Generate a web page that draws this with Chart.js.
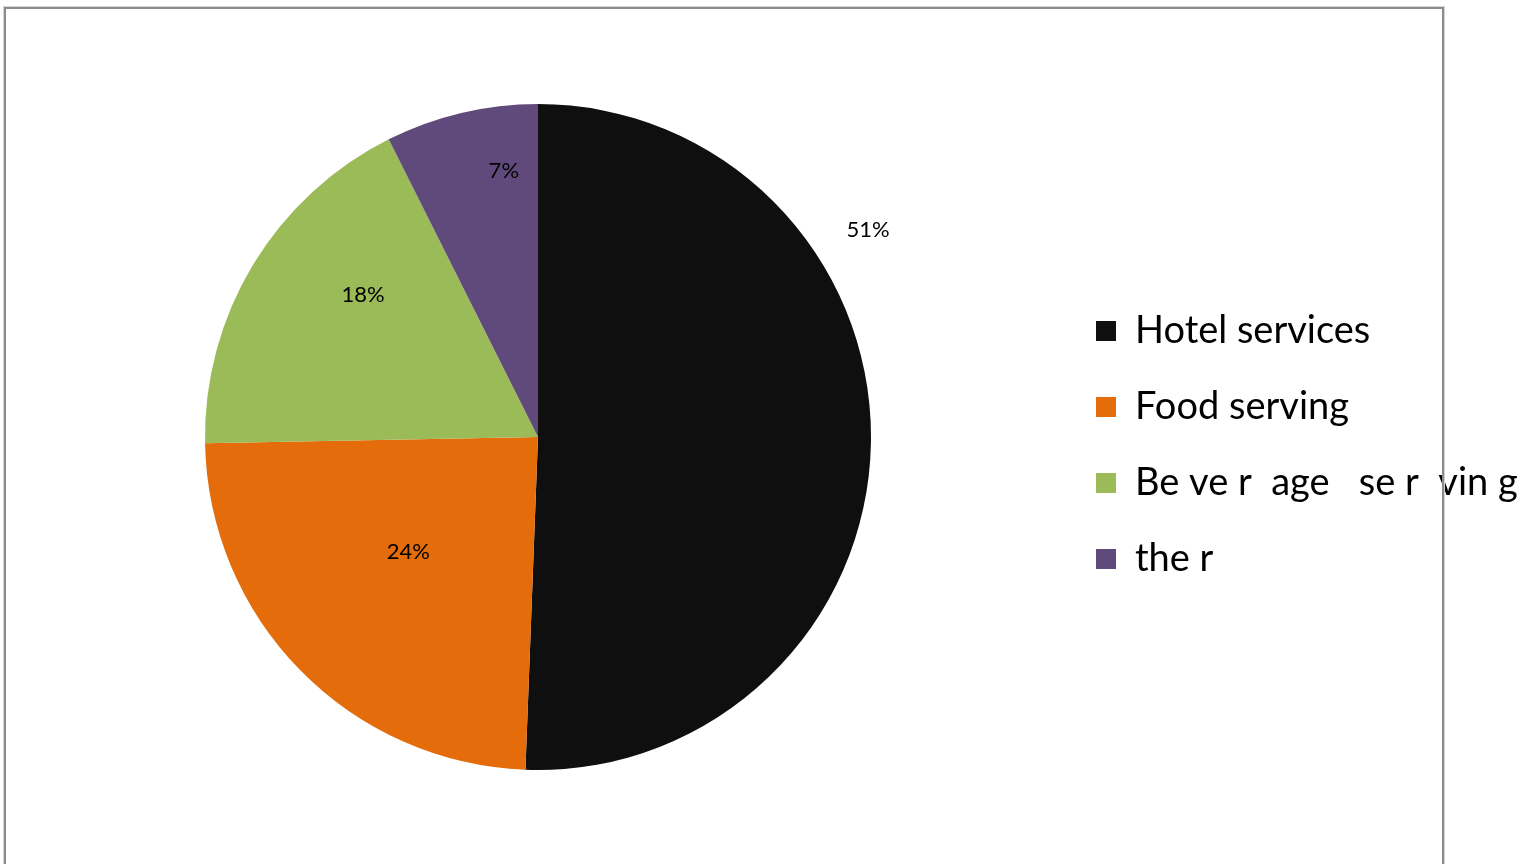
<!DOCTYPE html>
<html>
<head>
<meta charset="utf-8">
<title>Pie</title>
<script src="https://cdn.jsdelivr.net/npm/chart.js@4.4.1/dist/chart.umd.min.js"></script>
<style>
  html, body { margin: 0; padding: 0; background: #fff; overflow: hidden; }
  #wrap { position: relative; width: 1538px; height: 864px; }
  #frame {
    position: absolute; left: 4px; top: 7px; width: 1436px; height: 900px;
    border: 2px solid #8c8c8c; border-bottom: none;
    box-shadow: 0 0 0 1px #d4d4d4; pointer-events: none;
  }
</style>
</head>
<body>
<div id="wrap">
  <canvas id="chart" width="1538" height="864"></canvas>
  <div id="frame"></div>
</div>
<script>
// data
const categories = ["Hotel services", "Food serving", "Be ve r  age   se r  vin g", "the r"];
const shares = [50.6, 24.1, 17.9, 7.4];
const colors = ["#0f0f0f", "#e46c0a", "#9bbb59", "#604a7b"];

// where each % label sits: fraction along the slice, and fraction of the radius
const labelAlong = [0.318, 0.534, 0.622, 0.725];
const labelOut = [1.17, 0.52, 0.676, 0.805];

const LEGEND_W = 480;

// fixed legend width so the pie stays where it is
const legendWidth = {
  id: "legendWidth",
  beforeInit(chart) {
    const fit = chart.legend.fit;
    chart.legend.fit = function () {
      fit.call(this);
      this.width = LEGEND_W;
    };
  }
};

const sliceLabels = {
  id: "sliceLabels",
  afterDatasetsDraw(chart) {
    const meta = chart.getDatasetMeta(0);
    const values = chart.data.datasets[0].data;
    const total = values.reduce((a, b) => a + b, 0);
    const ctx = chart.ctx;
    ctx.save();
    ctx.font = "22px Lato";
    ctx.fillStyle = "#000";
    ctx.textAlign = "center";
    ctx.textBaseline = "middle";
    meta.data.forEach((arc, i) => {
      const p = arc.getProps(["x", "y", "startAngle", "endAngle", "outerRadius"], true);
      const a = p.startAngle + labelAlong[i] * (p.endAngle - p.startAngle);
      const r = p.outerRadius * labelOut[i];
      ctx.fillText(Math.round(values[i] / total * 100) + "%", p.x + r * Math.cos(a), p.y + r * Math.sin(a));
    });
    ctx.restore();
  }
};

new Chart(document.getElementById("chart"), {
  type: "pie",
  data: {
    labels: categories,
    datasets: [{
      data: shares,
      backgroundColor: colors,
      borderWidth: 0
    }]
  },
  options: {
    responsive: false,
    animation: false,
    radius: 333,
    layout: { padding: { top: 10, bottom: 0, left: 18, right: 0 } },
    plugins: {
      tooltip: { enabled: false },
      legend: {
        position: "right",
        align: "start",
        // empty title only pushes the items down
        title: { display: true, text: "", font: { size: 10 }, padding: { top: 252, bottom: 0 } },
        labels: {
          boxWidth: 20,
          boxHeight: 20,
          padding: 38,
          color: "#000",
          font: { family: "Lato", size: 38 }
        }
      }
    }
  },
  plugins: [legendWidth, sliceLabels]
});
</script>
</body>
</html>
